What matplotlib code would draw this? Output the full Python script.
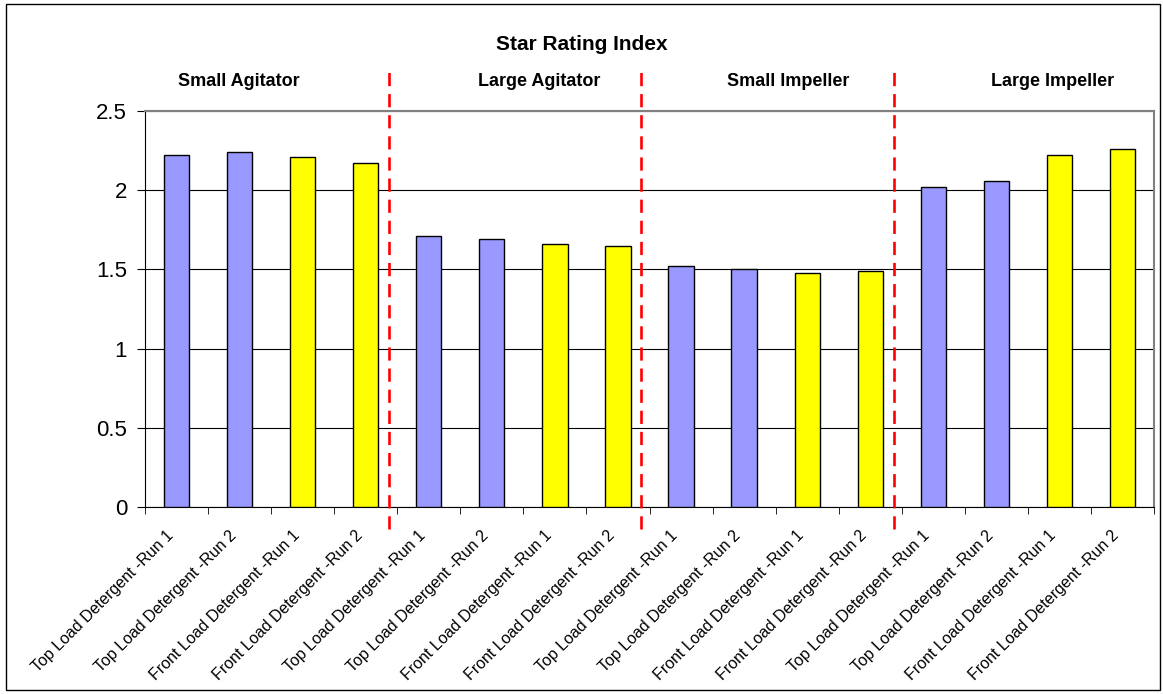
import numpy as np
import matplotlib
matplotlib.use('Agg')
import matplotlib.pyplot as plt
import matplotlib.transforms as mtransforms
from matplotlib.patches import Rectangle

plt.rcParams['font.family'] = ['Liberation Sans', 'DejaVu Sans']

# Data
labels = ['Top Load Detergent -Run 1', 'Top Load Detergent -Run 2',
          'Front Load Detergent -Run 1', 'Front Load Detergent -Run 2'] * 4
values = [2.22, 2.24, 2.21, 2.17,
          1.71, 1.69, 1.66, 1.65,
          1.52, 1.50, 1.48, 1.49,
          2.02, 2.06, 2.22, 2.26]
groups = ['Small Agitator', 'Large Agitator', 'Small Impeller', 'Large Impeller']
group_label_x = [0.99, 5.75, 9.7, 13.89]
divider_x = [3.37, 7.37, 11.37]
yticks = [0, 0.5, 1, 1.5, 2, 2.5]

colors = ['#9999FF', '#9999FF', '#FFFF00', '#FFFF00'] * 4

fig = plt.figure(figsize=(11.63, 6.94), dpi=100)
ax = fig.add_axes([145/1163, 1 - 507/694, (1154-145)/1163, (507-111)/694])

x = np.arange(len(values))
ax.bar(x, values, width=0.4, color=colors, edgecolor='black', linewidth=1, zorder=3)

ax.set_xlim(-0.5, 15.5)
ax.set_ylim(0, 2.5)
ax.set_yticks(yticks)
ax.set_yticklabels(['0', '0.5', '1', '1.5', '2', '2.5'], fontsize=16)
ax.grid(True, axis='y', color='black', linewidth=0.8, zorder=0)

# category labels at centres, tick marks at boundaries
ax.set_xticks(x)
ax.set_xticklabels(labels, rotation=45, ha='right', va='top',
                   rotation_mode='anchor', fontsize=11.5)
ax.tick_params(axis='x', which='major', length=0, pad=15)
shift = mtransforms.ScaledTranslation(-11/100, 0, fig.dpi_scale_trans)
for lbl in ax.get_xticklabels():
    lbl.set_transform(lbl.get_transform() + shift)
ax.set_xticks(np.arange(-0.5, 16, 1), minor=True)
ax.tick_params(axis='x', which='minor', length=5, direction='out', color='black')
ax.tick_params(axis='y', length=5.8, direction='out', color='black', pad=7)

for s in ['top', 'right']:
    ax.spines[s].set_color('#808080')
    ax.spines[s].set_linewidth(1.5)
ax.spines['left'].set_color('black')
ax.spines['bottom'].set_color('black')

# red dividers between washer types
for d in divider_x:
    ln, = ax.plot([d, d], [-0.14, 2.78], color='red', linewidth=1.9, clip_on=False, zorder=4)
    ln.set_dashes((5, 3))

for g, gx in zip(groups, group_label_x):
    ax.text(gx, 2.685, g, ha='center', va='center', fontsize=13, fontweight='bold')

fig.text(582/1163, 1 - 45/694, 'Star Rating Index', ha='center', va='center',
         fontsize=15, fontweight='bold')

fig.patches.append(Rectangle((6/1163, 4/694), 1154/1163, 686/694, transform=fig.transFigure,
                             fill=False, edgecolor='black', linewidth=1))

fig.savefig('out.png', dpi=100)
